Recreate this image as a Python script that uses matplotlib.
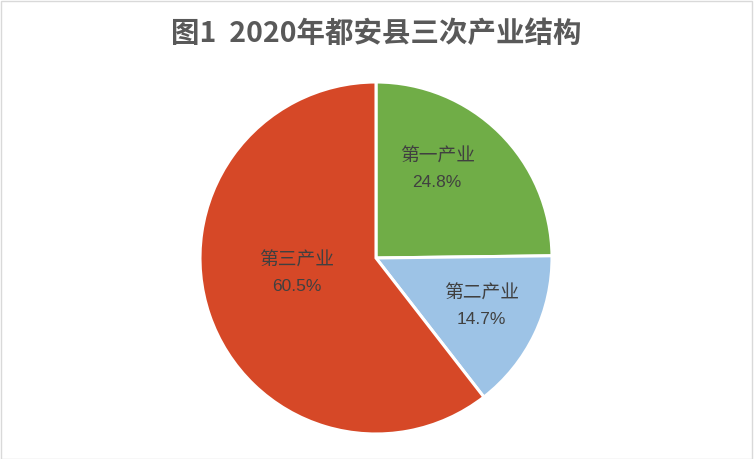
import matplotlib
matplotlib.use("Agg")
import matplotlib.pyplot as plt
import numpy as np

categories = ["第一产业", "第二产业", "第三产业"]
shares = [24.8, 14.7, 60.5]
colors = ["#70AD47", "#9DC3E6", "#D64827"]
title = "图1  2020年都安县三次产业结构"

# label placement (angle in degrees, radial fraction)
label_pos = [(55.3, 0.61), (-24.8, 0.66), (191.3, 0.46)]

plt.rcParams['font.family'] = ['Liberation Sans', 'Noto Sans CJK SC', 'DejaVu Sans']

fig = plt.figure(figsize=(7.54, 4.59), dpi=100)
fig.patch.set_facecolor("white")
border = plt.Rectangle((0.001, 0.001), 0.997, 0.996, transform=fig.transFigure,
                       fill=False, edgecolor="#D9D9D9", linewidth=1.0)
fig.add_artist(border)

cx, cy, r = 376 / 754, 1 - 258 / 459, 176
ax = fig.add_axes([cx - r / 754, cy - r / 459, 2 * r / 754, 2 * r / 459])
ax.pie(shares, colors=colors, startangle=90, counterclock=False,
       wedgeprops=dict(edgecolor="white", linewidth=2.2), radius=1.0)
ax.set_xlim(-1, 1)
ax.set_ylim(-1, 1)
ax.set_aspect("equal")
ax.axis("off")

for cat, val, (ang, d) in zip(categories, shares, label_pos):
    x = d * np.cos(np.radians(ang))
    y = d * np.sin(np.radians(ang))
    ax.text(x, y + 0.075, cat, ha="center", va="center", fontsize=13.5,
            color="#404040", family=['Noto Sans CJK SC', 'DejaVu Sans'])
    ax.text(x, y - 0.07, f"{val:.1f}%", ha="center", va="center", fontsize=12.5,
            color="#404040", family=['Liberation Sans', 'DejaVu Sans'])

fig.text(376 / 754, 1 - 34 / 459, title, ha="center", va="center",
         fontsize=20.5, fontweight="bold", color="#595959",
         family=['Noto Sans CJK SC', 'DejaVu Sans'])

fig.savefig("out.png", dpi=100)
